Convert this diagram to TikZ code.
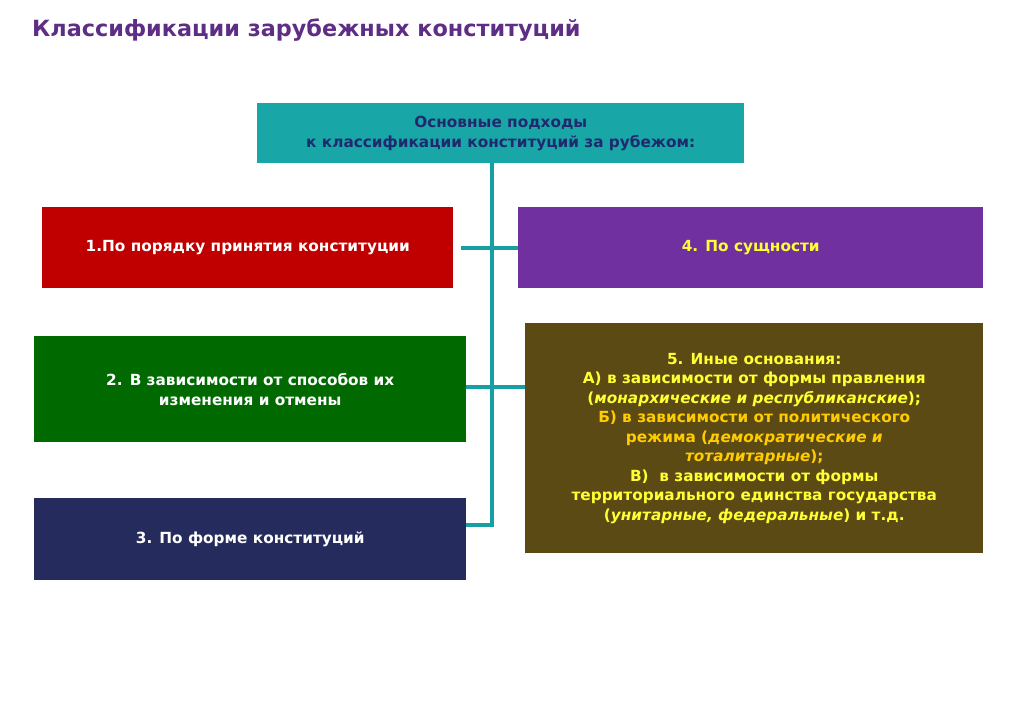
\documentclass[tikz,border=0pt]{standalone}
\usepackage{fontspec}
\setmainfont{DejaVu Sans}
\begin{document}
\begin{tikzpicture}[x=0.85pt,y=-0.85pt,
  box/.style={anchor=north west,inner sep=0pt,font=\bfseries\fontsize{13}{17}\selectfont,align=center},
  conn/.style={draw=tealc,line width=3.4pt}]
\definecolor{tealc}{HTML}{17A0A3}
\definecolor{topc}{HTML}{19A6A6}
\definecolor{titlec}{HTML}{5E2D86}
\definecolor{redc}{HTML}{C00000}
\definecolor{purc}{HTML}{7030A0}
\definecolor{grnc}{HTML}{006A00}
\definecolor{navc}{HTML}{262B5E}
\definecolor{olvc}{HTML}{5C4A14}
\definecolor{ylw}{HTML}{FFFF33}
\definecolor{gld}{HTML}{FFCC00}
\definecolor{dkb}{HTML}{1F2A6E}
\useasboundingbox (0,0) rectangle (1024,724);
\node[anchor=west,text=titlec,font=\bfseries\fontsize{19}{22}\selectfont] (title) at (28,30) {Классификации зарубежных конституций};
\node[box,fill=topc,text=dkb,minimum width=487*0.85pt,minimum height=60*0.85pt] (top) at (257,103) {Основные подходы\\к классификации конституций за рубежом:};
\node[box,fill=redc,text=white,minimum width=411*0.85pt,minimum height=81*0.85pt] (b1) at (42,207) {1.По порядку принятия конституции};
\node[box,fill=purc,text=ylw,minimum width=465*0.85pt,minimum height=81*0.85pt] (b4) at (518,207) {4. По сущности};
\node[box,fill=grnc,text=white,minimum width=432*0.85pt,minimum height=106*0.85pt] (b2) at (34,336) {2. В зависимости от способов их\\изменения и отмены};
\node[box,fill=navc,text=white,minimum width=432*0.85pt,minimum height=82*0.85pt] (b3) at (34,498) {3. По форме конституций};
\node[box,fill=olvc,minimum width=458*0.85pt,minimum height=230*0.85pt,font=\bfseries\fontsize{13}{16.6}\selectfont] (b5) at (525,323) {%
\textcolor{ylw}{5. Иные основания:}\\
\textcolor{ylw}{А) в зависимости от формы правления}\\
\textcolor{ylw}{(\textit{монархические и республиканские});}\\
\textcolor{gld}{Б) в зависимости от политического}\\
\textcolor{gld}{режима (\textit{демократические и}}\\
\textcolor{gld}{\textit{тоталитарные});}\\
\textcolor{ylw}{В)\ \ в зависимости от формы}\\
\textcolor{ylw}{территориального единства государства}\\
\textcolor{ylw}{(\textit{унитарные, федеральные}) и т.д.}};
\coordinate (j1) at (492,248);
\coordinate (j2) at (492,387);
\coordinate (j3) at (492,525);
\draw[conn] (top.south -| j1) -- (j3) -- (j3 -| b3.east);
\draw[conn] (461,248) -- (b4.west |- j1);
\draw[conn] (b2.east |- j2) -- (b5.west |- j2);
\end{tikzpicture}
\end{document}
